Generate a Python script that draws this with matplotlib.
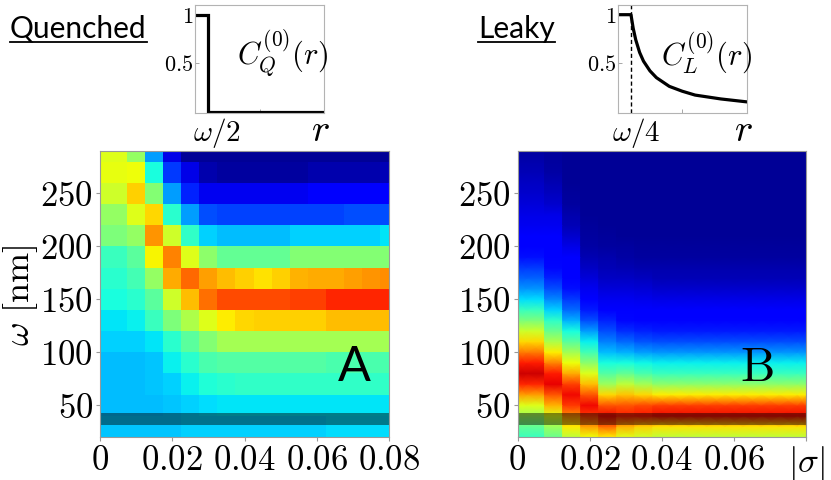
import numpy as np
import matplotlib
matplotlib.use('Agg')
import matplotlib.pyplot as plt
from matplotlib.lines import Line2D

plt.rcParams['mathtext.fontset'] = 'cm'
plt.rcParams['font.family'] = ['Lato', 'DejaVu Sans']

# ---------------- data ----------------
sigma = [0.0, 0.005, 0.01, 0.015, 0.02, 0.025, 0.03, 0.035, 0.04,
         0.045, 0.05, 0.055, 0.06, 0.065, 0.07, 0.075, 0.08]

omega_A = [30, 50, 70, 90, 110, 130, 150, 170, 190, 210, 230, 250, 270, 290]
A_rows = [
    [0.32, 0.32, 0.32, 0.32, 0.32, 0.33, 0.33, 0.33, 0.33, 0.33, 0.33, 0.33, 0.33, 0.34, 0.34, 0.34, 0.34],
    [0.31, 0.31, 0.31, 0.31, 0.32, 0.33, 0.34, 0.35, 0.35, 0.35, 0.35, 0.35, 0.35, 0.35, 0.35, 0.35, 0.35],
    [0.31, 0.31, 0.31, 0.32, 0.33, 0.36, 0.39, 0.40, 0.41, 0.41, 0.41, 0.41, 0.41, 0.41, 0.41, 0.41, 0.41],
    [0.31, 0.31, 0.31, 0.32, 0.36, 0.40, 0.44, 0.45, 0.45, 0.45, 0.45, 0.45, 0.45, 0.44, 0.44, 0.44, 0.44],
    [0.33, 0.33, 0.33, 0.35, 0.40, 0.46, 0.51, 0.55, 0.55, 0.55, 0.55, 0.55, 0.55, 0.55, 0.55, 0.55, 0.55],
    [0.35, 0.35, 0.36, 0.42, 0.50, 0.56, 0.62, 0.66, 0.68, 0.69, 0.69, 0.69, 0.69, 0.71, 0.71, 0.71, 0.71],
    [0.38, 0.38, 0.40, 0.46, 0.60, 0.71, 0.79, 0.83, 0.83, 0.83, 0.83, 0.84, 0.84, 0.87, 0.87, 0.87, 0.87],
    [0.40, 0.40, 0.43, 0.53, 0.73, 0.80, 0.74, 0.71, 0.69, 0.67, 0.69, 0.72, 0.73, 0.73, 0.74, 0.75, 0.76],
    [0.42, 0.42, 0.46, 0.65, 0.77, 0.62, 0.52, 0.47, 0.47, 0.47, 0.47, 0.51, 0.51, 0.51, 0.51, 0.51, 0.51],
    [0.50, 0.50, 0.53, 0.75, 0.60, 0.41, 0.33, 0.31, 0.31, 0.31, 0.31, 0.33, 0.33, 0.33, 0.33, 0.33, 0.35],
    [0.53, 0.53, 0.62, 0.68, 0.40, 0.28, 0.20, 0.19, 0.19, 0.19, 0.19, 0.19, 0.19, 0.19, 0.20, 0.20, 0.20],
    [0.60, 0.60, 0.69, 0.51, 0.28, 0.16, 0.10, 0.10, 0.10, 0.10, 0.10, 0.10, 0.11, 0.11, 0.11, 0.11, 0.12],
    [0.63, 0.63, 0.64, 0.38, 0.18, 0.09, 0.04, 0.03, 0.03, 0.03, 0.03, 0.03, 0.04, 0.04, 0.04, 0.04, 0.05],
    [0.62, 0.62, 0.53, 0.28, 0.09, 0.02, 0.02, 0.02, 0.02, 0.02, 0.02, 0.02, 0.02, 0.02, 0.02, 0.02, 0.02],
]

omega_B = [20, 30, 40, 50, 60, 70, 80, 90, 100, 110, 120, 130, 140, 150,
           160, 170, 180, 190, 200, 210, 220, 230, 240, 250, 260, 270, 280, 290]
B_s000 = [0.42, 0.47, 0.54, 0.62, 0.74, 0.87, 0.93, 0.88, 0.78, 0.68, 0.60, 0.50, 0.42, 0.34,
          0.27, 0.22, 0.18, 0.14, 0.12, 0.11, 0.10, 0.09, 0.08, 0.07, 0.06, 0.05, 0.04, 0.03]
B_s005 = [0.42, 0.47, 0.54, 0.62, 0.74, 0.87, 0.93, 0.88, 0.78, 0.68, 0.60, 0.50, 0.42, 0.34,
          0.27, 0.22, 0.18, 0.14, 0.12, 0.11, 0.10, 0.09, 0.08, 0.07, 0.06, 0.05, 0.04, 0.03]
B_s010 = [0.48, 0.54, 0.62, 0.72, 0.82, 0.91, 0.88, 0.77, 0.66, 0.56, 0.48, 0.41, 0.33, 0.26,
          0.20, 0.16, 0.13, 0.12, 0.115, 0.11, 0.10, 0.09, 0.07, 0.055, 0.045, 0.035, 0.03, 0.025]
B_s015 = [0.58, 0.66, 0.76, 0.85, 0.90, 0.84, 0.73, 0.64, 0.55, 0.46, 0.38, 0.30, 0.23, 0.18,
          0.14, 0.12, 0.12, 0.11, 0.09, 0.07, 0.05, 0.04, 0.03, 0.025, 0.02, 0.02, 0.02, 0.02]
B_s020 = [0.64, 0.74, 0.85, 0.90, 0.82, 0.71, 0.62, 0.52, 0.43, 0.36, 0.28, 0.20, 0.15, 0.12,
          0.10, 0.08, 0.06, 0.045, 0.035, 0.03, 0.025, 0.02, 0.02, 0.02, 0.02, 0.02, 0.02, 0.02]
B_s025 = [0.66, 0.80, 0.90, 0.82, 0.68, 0.54, 0.45, 0.38, 0.31, 0.25, 0.20, 0.16, 0.12, 0.10,
          0.08, 0.06, 0.05, 0.04, 0.03, 0.025, 0.02, 0.02, 0.02, 0.02, 0.02, 0.02, 0.02, 0.02]
B_s030 = [0.62, 0.72, 0.88, 0.82, 0.70, 0.58, 0.47, 0.38, 0.30, 0.23, 0.17, 0.13, 0.115, 0.10,
          0.08, 0.06, 0.045, 0.035, 0.03, 0.02, 0.02, 0.02, 0.02, 0.02, 0.02, 0.02, 0.02, 0.02]
B_s035 = [0.60, 0.69, 0.89, 0.83, 0.68, 0.55, 0.44, 0.37, 0.28, 0.21, 0.16, 0.125, 0.11, 0.095,
          0.075, 0.055, 0.04, 0.03, 0.025, 0.02, 0.02, 0.02, 0.02, 0.02, 0.02, 0.02, 0.02, 0.02]
B_sfar = [0.58, 0.67, 0.90, 0.84, 0.66, 0.52, 0.42, 0.36, 0.27, 0.20, 0.15, 0.125, 0.11, 0.09,
          0.07, 0.05, 0.04, 0.03, 0.025, 0.02, 0.02, 0.02, 0.02, 0.02, 0.02, 0.02, 0.02, 0.02]
B_cols = [B_s000, B_s005, B_s010, B_s015, B_s020, B_s025, B_s030, B_s035,
          B_sfar, B_sfar, B_sfar, B_sfar, B_sfar, B_sfar, B_sfar, B_sfar, B_sfar]

band = (31, 43)  # shaded omega range

# inset curves (r normalised to panel width)
rQ = [0.0, 0.103, 0.103, 1.0]
CQ = [1.0, 1.0, 0.0, 0.0]
rL = [0.0, 0.103, 0.12, 0.14, 0.17, 0.20, 0.25, 0.30, 0.40, 0.50, 0.60, 0.70, 0.80, 0.90, 1.0]
CL = [1.0, 1.0, 0.86, 0.74, 0.61, 0.52, 0.42, 0.35, 0.26, 0.21, 0.17, 0.15, 0.13, 0.115, 0.10]
r_mark = 0.103

xt_A = ['$0$', '$0.02$', '$0.04$', '$0.06$', '$0.08$']
xt_B = ['$0$', '$0.02$', '$0.04$', '$0.06$', r'$|\sigma|$']
yt = [50, 100, 150, 200, 250]

# ---------------- figure ----------------
W, H = 831, 480
fig = plt.figure(figsize=(W / 100, H / 100), dpi=100)

def fr(x0, x1, ytop, ybot):
    return [x0 / W, 1 - ybot / H, (x1 - x0) / W, (ybot - ytop) / H]

axA = fig.add_axes(fr(100, 389, 151, 437))
axB = fig.add_axes(fr(517.5, 806, 151, 437))

cmap = plt.get_cmap('jet')
axA.pcolormesh(np.array(sigma), np.array(omega_A), np.array(A_rows),
               cmap=cmap, vmin=0, vmax=1, shading='nearest')

# B: stepwise in sigma, smooth in omega
xs, cols = [], []
for j, s in enumerate(sigma):
    xs += [max(0.0, s - 0.0025), min(0.08, s + 0.0025)]
    cols += [B_cols[j], B_cols[j]]
CB = np.array(cols).T
axB.pcolormesh(np.array(xs), np.array(omega_B), CB, cmap=cmap, vmin=0, vmax=1,
               shading='gouraud')

for ax, xt in ((axA, xt_A), (axB, xt_B)):
    ax.axhspan(band[0], band[1], color='black', alpha=0.45, lw=0)
    ax.set_xlim(0, 0.08)
    ax.set_ylim(20, 290)
    ax.set_xticks([0, 0.02, 0.04, 0.06, 0.08])
    ax.set_xticklabels(xt)
    ax.set_yticks(yt)
    ax.set_yticklabels(['$%d$' % v for v in yt])
    ax.tick_params(labelsize=25, length=3, width=0.8, color='0.6', pad=2)
    for sp in ax.spines.values():
        sp.set_color('0.6')
        sp.set_linewidth(0.8)

axA.text(0.0703, 72.5, 'A', fontsize=35, ha='center', va='baseline', color='black')
axB.text(0.0663, 72.5, r'$\mathrm{B}$', fontsize=35, ha='center', va='baseline', color='black')

fig.text(20 / W, 1 - 296 / H, r'$\omega\ [\mathrm{nm}]$', fontsize=26, rotation=90,
         ha='center', va='center')

# insets
axQ = fig.add_axes(fr(195, 324, 5, 113))
axL = fig.add_axes(fr(617.7, 746.7, 5, 113))
axQ.plot(rQ, CQ, color='black', lw=2.3, solid_joinstyle='miter')
axL.plot(rL, CL, color='black', lw=2.3)
axL.axvline(r_mark, color='black', lw=1, ls=(0, (3, 2)))
for ax in (axQ, axL):
    ax.set_xlim(0, 1)
    ax.set_ylim(-0.015, 1.1)
    ax.set_xticks([0, 0.5, 1])
    ax.set_xticklabels([])
    ax.set_yticks([0.5, 1])
    ax.set_yticklabels(['$0.5$', '$1$'])
    ax.tick_params(labelsize=16, length=3, width=0.6, color='0.6', direction='in', pad=1)
    for sp in ax.spines.values():
        sp.set_color('0.7')
        sp.set_linewidth(0.8)
axQ.text(0.68, 0.556, r'$C_Q^{(0)}(r)$', fontsize=22, ha='center', va='center',
         transform=axQ.transAxes)
axL.text(0.69, 0.556, r'$C_L^{(0)}(r)$', fontsize=22, ha='center', va='center',
         transform=axL.transAxes)

base = 1 - 141 / H
fig.text(217 / W, base, r'$\omega/2$', fontsize=21, ha='center', va='baseline')
fig.text(320 / W, base, r'$r$', fontsize=28, ha='center', va='baseline')
fig.text(636 / W, base, r'$\omega/4$', fontsize=21, ha='center', va='baseline')
fig.text(743 / W, base, r'$r$', fontsize=28, ha='center', va='baseline')

tQ = fig.text(10 / W, 1 - 38 / H, 'Quenched', fontsize=21.5, ha='left', va='baseline')
tL = fig.text(478 / W, 1 - 38 / H, 'Leaky', fontsize=21.5, ha='left', va='baseline')
fig.canvas.draw()
r = fig.canvas.get_renderer()
for t in (tQ, tL):
    bb = t.get_window_extent(renderer=r)
    yl = 1 - 41.5 / H
    fig.add_artist(Line2D([bb.x0 / W, bb.x1 / W], [yl, yl], color='black', lw=1.3,
                          transform=fig.transFigure))

fig.savefig('out.png', dpi=100)
